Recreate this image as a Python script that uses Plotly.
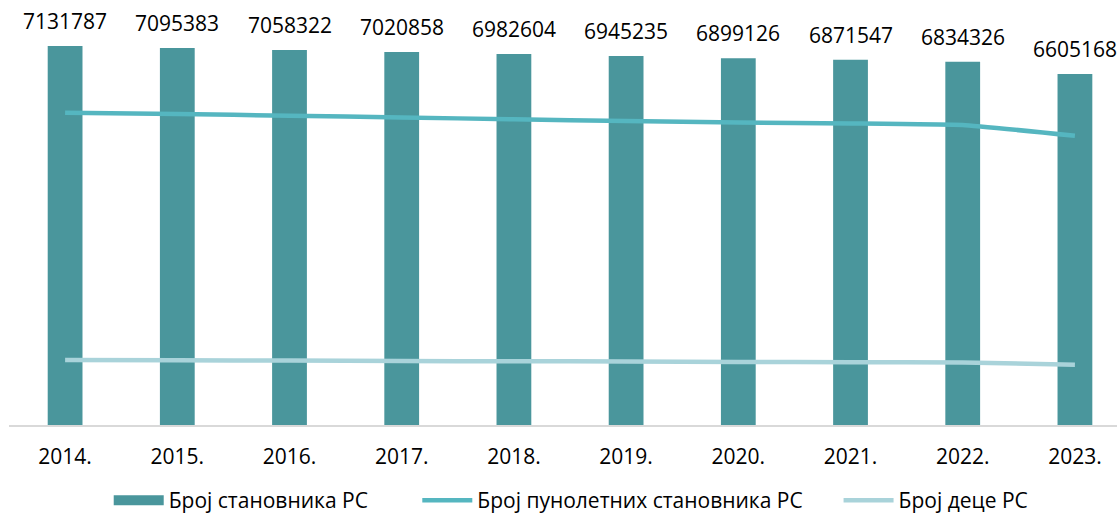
import plotly.graph_objects as go

# Population of RS by year
years = ["2014.", "2015.", "2016.", "2017.", "2018.", "2019.", "2020.", "2021.", "2022.", "2023."]
population = [7131787, 7095383, 7058322, 7020858, 6982604, 6945235, 6899126, 6871547, 6834326, 6605168]
adults = [5877000, 5852000, 5821000, 5787000, 5753000, 5721000, 5692000, 5674000, 5645000, 5444000]
children = [1223000, 1217000, 1212000, 1204000, 1200000, 1195000, 1186000, 1182000, 1176000, 1135000]

FONT = "Open Sans, Noto Sans, sans-serif"
BAR_COLOR = "#4a969c"

fig = go.Figure()

fig.add_trace(go.Bar(
    x=years, y=population,
    name="Број становника РС",
    marker=dict(color=BAR_COLOR, line=dict(width=0)),
    width=0.31,
    showlegend=False,
))

# legend-only entry so the bar swatch looks like a wide block
fig.add_trace(go.Scatter(
    x=[None], y=[None],
    name="Број становника РС",
    mode="lines",
    line=dict(color=BAR_COLOR, width=14),
    legend="legend",
))

fig.add_trace(go.Scatter(
    x=years, y=adults,
    name="Број пунолетних становника РС",
    mode="lines",
    line=dict(color="#55b6c0", width=4.5, shape="spline", smoothing=0.3),
    legend="legend2",
))

fig.add_trace(go.Scatter(
    x=years, y=children,
    name="Број деце РС",
    mode="lines",
    line=dict(color="#a9d3da", width=4.5, shape="spline", smoothing=0.3),
    legend="legend3",
))

# value labels above the bars
for i, val in enumerate(population):
    fig.add_annotation(
        xref="x", yref="y",
        x=i, y=val, text=str(val),
        showarrow=False, yanchor="middle", yshift=25,
        font=dict(family=FONT, size=21, color="#000000"),
    )

legend_style = dict(
    orientation="h", xanchor="left", y=-0.243, yanchor="bottom",
    font=dict(family=FONT, size=21, color="#000000"),
    itemwidth=50, bgcolor="rgba(0,0,0,0)",
)

fig.update_layout(
    width=1117, height=521,
    margin=dict(l=9, r=0, t=30, b=96, autoexpand=False),
    paper_bgcolor="white",
    plot_bgcolor="white",
    showlegend=True,
    legend=dict(x=0.09, **legend_style),
    legend2=dict(x=0.3685, **legend_style),
    legend3=dict(x=0.7487, **legend_style),
    xaxis=dict(
        type="category",
        range=[-0.5, 9.375],
        showgrid=False, zeroline=False,
        showline=True, linecolor="#d9d9d9", linewidth=1.5,
        ticks="", ticklabelstandoff=12,
        tickfont=dict(family=FONT, size=21, color="#000000"),
    ),
    yaxis=dict(
        range=[0, 7433000],
        visible=False,
        showgrid=False, zeroline=False,
    ),
)

fig.write_html(
    "out.html",
    config={"displayModeBar": False},
    post_script="document.body.style.margin='0';",
)
